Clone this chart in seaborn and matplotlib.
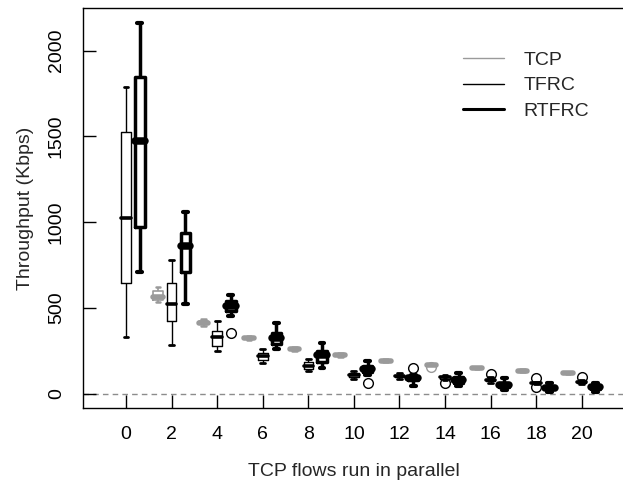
import matplotlib
matplotlib.use('Agg')
import matplotlib.pyplot as plt
import pandas as pd
import seaborn as sns
from matplotlib.lines import Line2D

# 数据：每组 (下须, 下四分位, 中位数, 上四分位, 上须)，单位 Kbps
flows = [0, 2, 4, 6, 8, 10, 12, 14, 16, 18, 20]
series = ['TCP', 'TFRC', 'RTFRC']

tcp_box = [None,
           (535, 548, 565, 600, 620),
           (395, 405, 415, 425, 435),
           (312, 318, 325, 332, 338),
           (250, 255, 262, 268, 274),
           (213, 218, 224, 230, 236),
           (183, 188, 193, 198, 203),
           (165, 167, 169, 171, 173),
           (142, 146, 150, 154, 158),
           (126, 130, 134, 138, 142),
           (113, 117, 120, 124, 128)]
tcp_out = {14: [158]}

tfrc_box = [(330, 645, 1024, 1525, 1790),
            (284, 423, 522, 648, 777),
            (249, 281, 329, 366, 425),
            (178, 197, 218, 240, 261),
            (135, 145, 164, 185, 200),
            (88, 100, 111, 120, 130),
            (85, 95, 103, 110, 120),
            (80, 88, 95, 103, 112),
            (62, 72, 80, 88, 96),
            (58, 61, 64, 67, 70),
            (55, 63, 70, 76, 82)]
tfrc_out = {14: [62], 16: [115], 18: [38, 90], 20: [100]}

rtfrc_box = [(709, 975, 1474, 1848, 2163),
             (522, 709, 863, 940, 1057),
             (456, 485, 514, 540, 577),
             (260, 290, 325, 355, 410),
             (152, 185, 225, 250, 298),
             (112, 128, 145, 162, 190),
             (45, 78, 93, 105, 112),
             (48, 65, 83, 100, 122),
             (20, 38, 50, 65, 90),
             (10, 25, 35, 45, 60),
             (10, 28, 40, 50, 65)]
rtfrc_out = {4: [356], 10: [60], 12: [152]}


def expand(stats, extra):
    """把五数概括还原成一组样本，使分位数与须线保持不变"""
    lo, q1, med, q3, hi = stats
    below = sorted(v for v in extra if v < q1) + [lo]
    above = [hi] + sorted(v for v in extra if v > q3)
    k = max(len(below), len(above))
    return (below + [q1] * (2 * k - len(below)) + [med]
            + [q3] * (2 * k - len(above)) + above)


rows = []
for name, boxes, outs in [('TCP', tcp_box, tcp_out),
                          ('TFRC', tfrc_box, tfrc_out),
                          ('RTFRC', rtfrc_box, rtfrc_out)]:
    for f, st in zip(flows, boxes):
        if st is None:
            continue
        for v in expand(st, outs.get(f, [])):
            rows.append({'flows': f, 'series': name, 'kbps': v})
df = pd.DataFrame(rows)

sns.set_style('white')
plt.rcParams['font.family'] = ['Liberation Sans', 'DejaVu Sans']

styles = {
    'TCP': dict(color='#9a9a9a', lw=1.2, med=4.0, cap=1.8),
    'TFRC': dict(color='black', lw=1.0, med=2.6, cap=2.0),
    'RTFRC': dict(color='black', lw=2.5, med=5.4, cap=3.0),
}

fig = plt.figure(figsize=(6.23, 4.83), dpi=100)
ax = fig.add_axes([83 / 623, 75 / 483, 542 / 623, 399.7 / 483])

ax.axhline(0, color='#8c8c8c', lw=1.0, ls=(0, (4, 3)), zorder=0)

for name in series:
    st = styles[name]
    sub = df[df['series'] == name]
    sns.boxplot(data=sub, x='flows', y='kbps', hue='series', hue_order=series,
                native_scale=True, dodge=True, width=0.9, gap=0.3, fill=False,
                palette={s: st['color'] for s in series}, saturation=1,
                linewidth=st['lw'],
                medianprops=dict(linewidth=st['med'], solid_capstyle='round'),
                capprops=dict(linewidth=st['cap'], solid_capstyle='round'),
                flierprops=dict(marker='o', markersize=7, markerfacecolor='none',
                                markeredgecolor=st['color'], markeredgewidth=1.0),
                legend=False, ax=ax)

ax.set_xlim(-1.89, 21.9)
ax.set_ylim(-83, 2247)
ax.set_xticks(flows)
ax.set_xticklabels([str(f) for f in flows])
ax.set_yticks([0, 500, 1000, 1500, 2000])
ax.tick_params(direction='in', length=9.5, width=1.0, pad=13, labelsize=14,
               color='black', labelcolor='black', bottom=True, left=True)
ax.tick_params(axis='y', labelrotation=90)
for lab in ax.get_yticklabels():
    lab.set_va('center')
for sp in ax.spines.values():
    sp.set_color('black')
    sp.set_linewidth(1.0)

ax.set_xlabel('TCP flows run in parallel', fontsize=14, labelpad=14)
ax.set_ylabel('Throughput (Kbps)', fontsize=14, labelpad=10)

handles = [Line2D([], [], color='#9a9a9a', lw=1.0),
           Line2D([], [], color='black', lw=1.0),
           Line2D([], [], color='black', lw=2.2)]
fig.legend(handles, series, loc='upper left',
           bbox_to_anchor=(463 / 623, 1 - 51 / 483), frameon=False,
           fontsize=14, handlelength=2.1, handletextpad=1.0,
           labelspacing=0.42, borderpad=0, borderaxespad=0)

fig.savefig('out.png', dpi=100)
